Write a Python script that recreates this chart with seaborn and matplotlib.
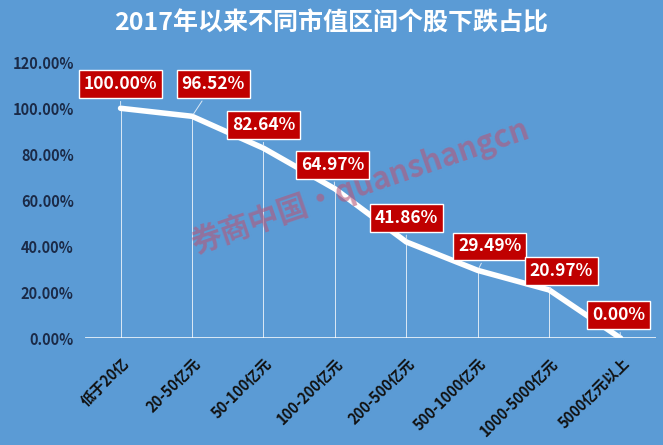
import matplotlib
matplotlib.use('Agg')
import matplotlib.pyplot as plt
import seaborn as sns
import pandas as pd

categories = ['低于20亿', '20-50亿元', '50-100亿元', '100-200亿元', '200-500亿元',
              '500-1000亿元', '1000-5000亿元', '5000亿元以上']
values = [100.00, 96.52, 82.64, 64.97, 41.86, 29.49, 20.97, 0.00]
label_offsets = [(0, 24), (21, 32), (0, 23), (-2, 24), (0, 24), (12, 24), (12, 19), (-2, 23)]


def main():
    sns.set_style('white')
    plt.rcParams['font.family'] = ['Noto Sans CJK SC', 'DejaVu Sans']
    bg = '#5B9BD5'

    df = pd.DataFrame({'区间': categories, '占比': values})
    fig, ax = plt.subplots(figsize=(6.63, 4.45), dpi=100)
    fig.patch.set_facecolor(bg)
    ax.set_facecolor(bg)
    fig.subplots_adjust(left=0.128, right=0.99, top=0.86, bottom=0.24)

    xs = list(range(len(categories)))
    ax.vlines(xs, 0, df['占比'], color='#DCE9F6', linewidth=0.7, zorder=1)
    sns.lineplot(x=xs, y=df['占比'], ax=ax, color='white', linewidth=4,
                 solid_joinstyle='round', solid_capstyle='round', zorder=3)
    ax.axhline(0, color='white', linewidth=1.8, zorder=2)

    for x, v, off in zip(xs, values, label_offsets):
        ax.annotate(f'{v:.2f}%', xy=(x, v), xytext=off, textcoords='offset pixels',
                    ha='center', va='center', color='white', fontsize=12.5, fontweight='bold',
                    bbox=dict(boxstyle='square,pad=0.28', fc='#C00000', ec='white', lw=1),
                    arrowprops=dict(arrowstyle='-', color='#DCE9F6', lw=0.7), zorder=5)

    ax.text(3.35, 66, '券商中国·quanshangcn', rotation=19, ha='center', va='center',
            fontsize=22, fontweight='bold', color='#B5577A', alpha=0.6, zorder=4)

    ax.set_xlim(-0.5, len(categories) - 0.5)
    ax.set_ylim(0, 120)
    ax.set_yticks([0, 20, 40, 60, 80, 100, 120])
    ax.set_yticklabels([f'{t:.2f}%' for t in [0, 20, 40, 60, 80, 100, 120]],
                       color='#1B2A47', fontsize=10.5, fontweight='bold')
    ax.set_xticks(xs)
    ax.set_xticklabels(categories, rotation=45, ha='right', rotation_mode='anchor',
                       color='#111111', fontsize=10.5, fontweight='bold')
    ax.tick_params(axis='y', length=0, pad=8)
    ax.tick_params(axis='x', length=0, pad=12)
    for s in ax.spines.values():
        s.set_visible(False)
    ax.set_xlabel('')
    ax.set_ylabel('')

    fig.suptitle('2017年以来不同市值区间个股下跌占比', x=0.5, y=0.975, color='white',
                 fontsize=18, fontweight='bold')
    plt.savefig('out.png', dpi=100, facecolor=bg)
    plt.close()


if __name__ == '__main__':
    main()
